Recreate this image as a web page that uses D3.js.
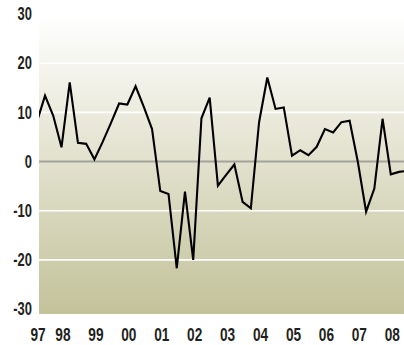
<!DOCTYPE html>
<html>
<head>
<meta charset="utf-8">
<script src="https://cdn.jsdelivr.net/npm/d3@7"></script>
<style>
  html, body { margin: 0; padding: 0; background: #fff; }
  svg { display: block; }
  .lbl { font-family: "Liberation Sans", Arial, sans-serif; font-weight: bold; fill: #231f20; }
</style>
</head>
<body>
<svg id="chart" width="404" height="345"></svg>
<script>
// Quarterly series, first quarter is Q3 1997
const firstQuarter = 1997.625;
const values = [
  8.0, 13.4, 9.3, 2.9, 16.1, 3.8, 3.6, 0.45, 4.0, 7.8,
  11.8, 11.6, 15.3, 11.1, 6.6, -6.0, -6.6, -21.7, -6.1, -20.0,
  8.8, 13.0, -4.9, -2.7, -0.6, -8.2, -9.5, 8.0, 17.1, 10.7,
  11.0, 1.2, 2.3, 1.3, 3.0, 6.6, 5.9, 8.0, 8.3, -0.1,
  -10.2, -5.5, 8.7, -2.6, -2.1, -1.9
];
const yTicks = [30, 20, 10, 0, -10, -20, -30];
const gridValues = [20, 10, -10, -20];
const yearLabels = ["97", "98", "99", "00", "01", "02", "03", "04", "05", "06", "07", "08"];
const firstYear = 1997;

const plot = { left: 39, right: 404, top: 14, bottom: 314 };
const condense = 0.74; // narrow the bold face horizontally

const svg = d3.select("#chart");

const x = d3.scaleLinear().domain([1997.692, 2008.776]).range([plot.left, plot.right]);
const y = d3.scaleLinear().domain([-31, 30]).range([plot.bottom, plot.top]);

// background gradient
const defs = svg.append("defs");
const grad = defs.append("linearGradient").attr("id", "bg")
  .attr("x1", 0).attr("y1", 0).attr("x2", 0).attr("y2", 1);
grad.append("stop").attr("offset", "0%").attr("stop-color", "#ffffff");
grad.append("stop").attr("offset", "100%").attr("stop-color", "#c3c29a");

defs.append("clipPath").attr("id", "clip")
  .append("rect")
  .attr("x", plot.left).attr("y", plot.top)
  .attr("width", plot.right - plot.left).attr("height", plot.bottom - plot.top);

svg.append("rect")
  .attr("x", plot.left).attr("y", plot.top)
  .attr("width", plot.right - plot.left).attr("height", plot.bottom - plot.top)
  .attr("fill", "url(#bg)");

// horizontal grid
svg.append("g").selectAll("line").data(gridValues).join("line")
  .attr("x1", plot.left).attr("x2", plot.right)
  .attr("y1", d => y(d)).attr("y2", d => y(d))
  .attr("stroke", "#ffffff").attr("stroke-width", 1.6);

// zero line
svg.append("line")
  .attr("x1", plot.left).attr("x2", plot.right)
  .attr("y1", y(0)).attr("y2", y(0))
  .attr("stroke", "#a3a39c").attr("stroke-width", 2);

// series
const line = d3.line()
  .x((d, i) => x(firstQuarter + i * 0.25))
  .y(d => y(d));

svg.append("path")
  .datum(values)
  .attr("clip-path", "url(#clip)")
  .attr("fill", "none")
  .attr("stroke", "#000")
  .attr("stroke-width", 2.1)
  .attr("stroke-linejoin", "miter")
  .attr("d", line);

// y labels
svg.append("g").selectAll("text").data(yTicks).join("text")
  .attr("class", "lbl")
  .attr("transform", d => `translate(32,${y(d)}) scale(${condense},1)`)
  .attr("dy", "0.36em")
  .attr("text-anchor", "end")
  .attr("font-size", 17.5)
  .text(d => d);

// x labels, centred inside each year (first one kept at the plot edge)
svg.append("g").selectAll("text").data(yearLabels).join("text")
  .attr("class", "lbl")
  .attr("transform", (d, i) => `translate(${Math.max(x(firstYear + i + 0.42), plot.left - 1)},341) scale(${condense},1)`)
  .attr("text-anchor", "middle")
  .attr("font-size", 18.5)
  .text(d => d);
</script>
</body>
</html>
